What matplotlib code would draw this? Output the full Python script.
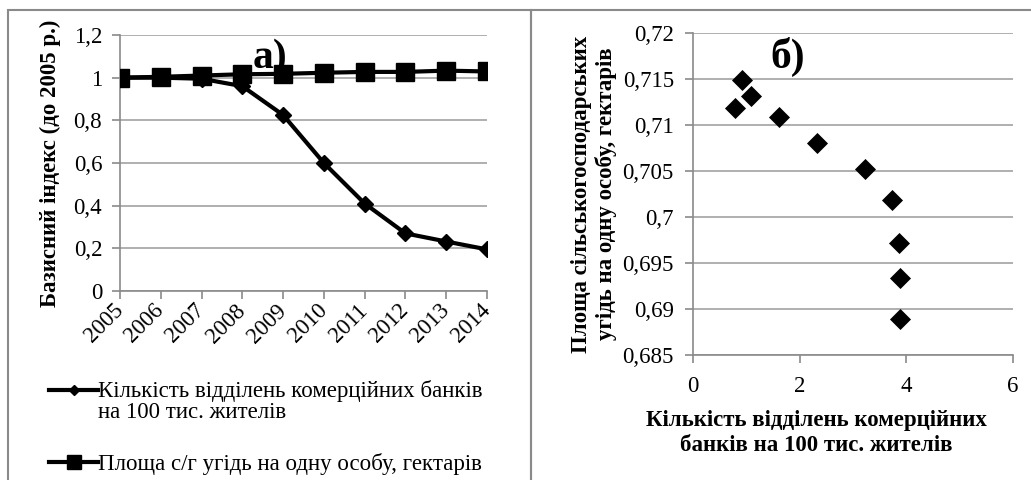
import matplotlib
matplotlib.use("Agg")
import matplotlib.pyplot as plt
from matplotlib.lines import Line2D
from matplotlib.legend_handler import HandlerLine2D
from matplotlib.ticker import FuncFormatter, MultipleLocator

plt.rcParams['font.family'] = ['Liberation Serif', 'DejaVu Serif']

# panel а): basis index (2005 = 1)
years = ['2005', '2006', '2007', '2008', '2009', '2010', '2011', '2012', '2013', '2014']
bank_index = [1.0, 1.0, 0.995, 0.96, 0.825, 0.60, 0.41, 0.27, 0.232, 0.195]
land_index = [1.0, 1.004, 1.01, 1.016, 1.018, 1.023, 1.027, 1.027, 1.033, 1.029]

# panel б): branches per 100k inhabitants vs farmland per person, ha
branches = [0.78, 0.92, 1.09, 1.61, 2.33, 3.23, 3.73, 3.86, 3.875, 3.89]
land_per_person = [0.7119, 0.7149, 0.7131, 0.7109, 0.7080, 0.7052, 0.7019, 0.6972, 0.6934, 0.6889]

label_banks = 'Кількість відділень комерційних банків\nна 100 тис. жителів'
label_land = 'Площа с/г угідь на одну особу, гектарів'

grey = '#8a8a8a'
grid_grey = '#9a9a9a'
fs = 16.5


def comma(v, pos):
    s = ('%.3f' % v).rstrip('0').rstrip('.')
    return s.replace('.', ',')


class RaisedHandler(HandlerLine2D):
    # put the legend symbol next to the first line of a two-line label
    def __init__(self, dy, **kw):
        super().__init__(**kw)
        self.dy = dy

    def create_artists(self, legend, orig_handle, xdescent, ydescent, width, height, fontsize, trans):
        arts = super().create_artists(legend, orig_handle, xdescent, ydescent, width, height, fontsize, trans)
        for a in arts:
            a.set_ydata([y + self.dy for y in a.get_ydata()])
        return arts


fig = plt.figure(figsize=(10.31, 4.8), dpi=100)

# panel frames
fig.add_artist(plt.Rectangle((8 / 1031, -0.1), 523 / 1031, 1.1 - 10 / 480,
                             transform=fig.transFigure, fill=False, ec=grey, lw=1.5))
fig.add_artist(plt.Rectangle((531 / 1031, -0.1), 0.6, 1.1 - 10 / 480,
                             transform=fig.transFigure, fill=False, ec=grey, lw=1.5))


def style_axes(ax):
    for s in ['top', 'right']:
        ax.spines[s].set_visible(False)
    for s in ['left', 'bottom']:
        ax.spines[s].set_color(grey)
        ax.spines[s].set_linewidth(1.2)
    ax.grid(axis='y', color=grid_grey, lw=1.1)
    ax.set_axisbelow(True)
    ax.tick_params(colors=grey, labelcolor='black', labelsize=fs, length=5.8, width=1.2)


# ---- left panel ----
ax1 = fig.add_axes([120 / 1031, 1 - 291 / 480, 367 / 1031, 256 / 480])
style_axes(ax1)
x = list(range(len(years)))
ax1.plot(x, land_index, color='black', lw=3, marker='s', ms=13.5, zorder=3)
ax1.plot(x, bank_index, color='black', lw=3, marker='D', ms=7.8, zorder=4)
ax1.set_xlim(0, len(years) - 1)
ax1.set_ylim(0, 1.2)
ax1.yaxis.set_major_locator(MultipleLocator(0.2))
ax1.yaxis.set_major_formatter(FuncFormatter(comma))
ax1.set_xticks(x)
ax1.set_xticklabels(years, rotation=45, ha='right', va='center', rotation_mode='anchor')
ax1.tick_params(axis='y', pad=7)
ax1.tick_params(axis='x', pad=6)
ax1.set_ylabel('Базисний індекс (до 2005 р.)', fontsize=fs, fontweight='bold', labelpad=9)
ax1.text(3.68, 1.045, 'а)', fontsize=30, fontweight='bold', ha='center', va='baseline')

h_banks = Line2D([], [], color='black', lw=3, marker='D', ms=5.5)
h_land = Line2D([], [], color='black', lw=3, marker='s', ms=10)
leg = fig.legend([h_banks, h_land], [label_banks, label_land], loc='upper left',
                 bbox_to_anchor=(38 / 1031, 1 - 369 / 480), frameon=False, fontsize=fs,
                 handlelength=2.1, handletextpad=0.02, labelspacing=1.3, borderpad=0,
                 handler_map={h_banks: RaisedHandler(8.3)})
leg.get_texts()[0].set_linespacing(1.0)

# ---- right panel ----
ax2 = fig.add_axes([693 / 1031, 1 - 355 / 480, 320 / 1031, 322 / 480])
style_axes(ax2)
ax2.scatter(branches, land_per_person, marker='D', s=115, color='black', zorder=3, linewidths=0)
ax2.set_xlim(0, 6)
ax2.set_ylim(0.685, 0.72)
ax2.xaxis.set_major_locator(MultipleLocator(2))
ax2.yaxis.set_major_locator(MultipleLocator(0.005))
ax2.yaxis.set_major_formatter(FuncFormatter(comma))
ax2.tick_params(axis='y', pad=8)
ax2.tick_params(axis='x', pad=9)
ax2.set_ylabel('Площа сільськогосподарських\nугідь на одну особу, гектарів',
               fontsize=fs, fontweight='bold', labelpad=4, linespacing=1.15)
ax2.text(1.78, 0.7162, 'б)', fontsize=30, fontweight='bold', ha='center', va='baseline')
fig.text(816 / 1031, 1 - 433 / 480, 'Кількість відділень комерційних\nбанків на 100 тис. жителів',
         fontsize=fs, fontweight='bold', ha='center', va='center', linespacing=1.2)

fig.savefig('out.png', dpi=100)
